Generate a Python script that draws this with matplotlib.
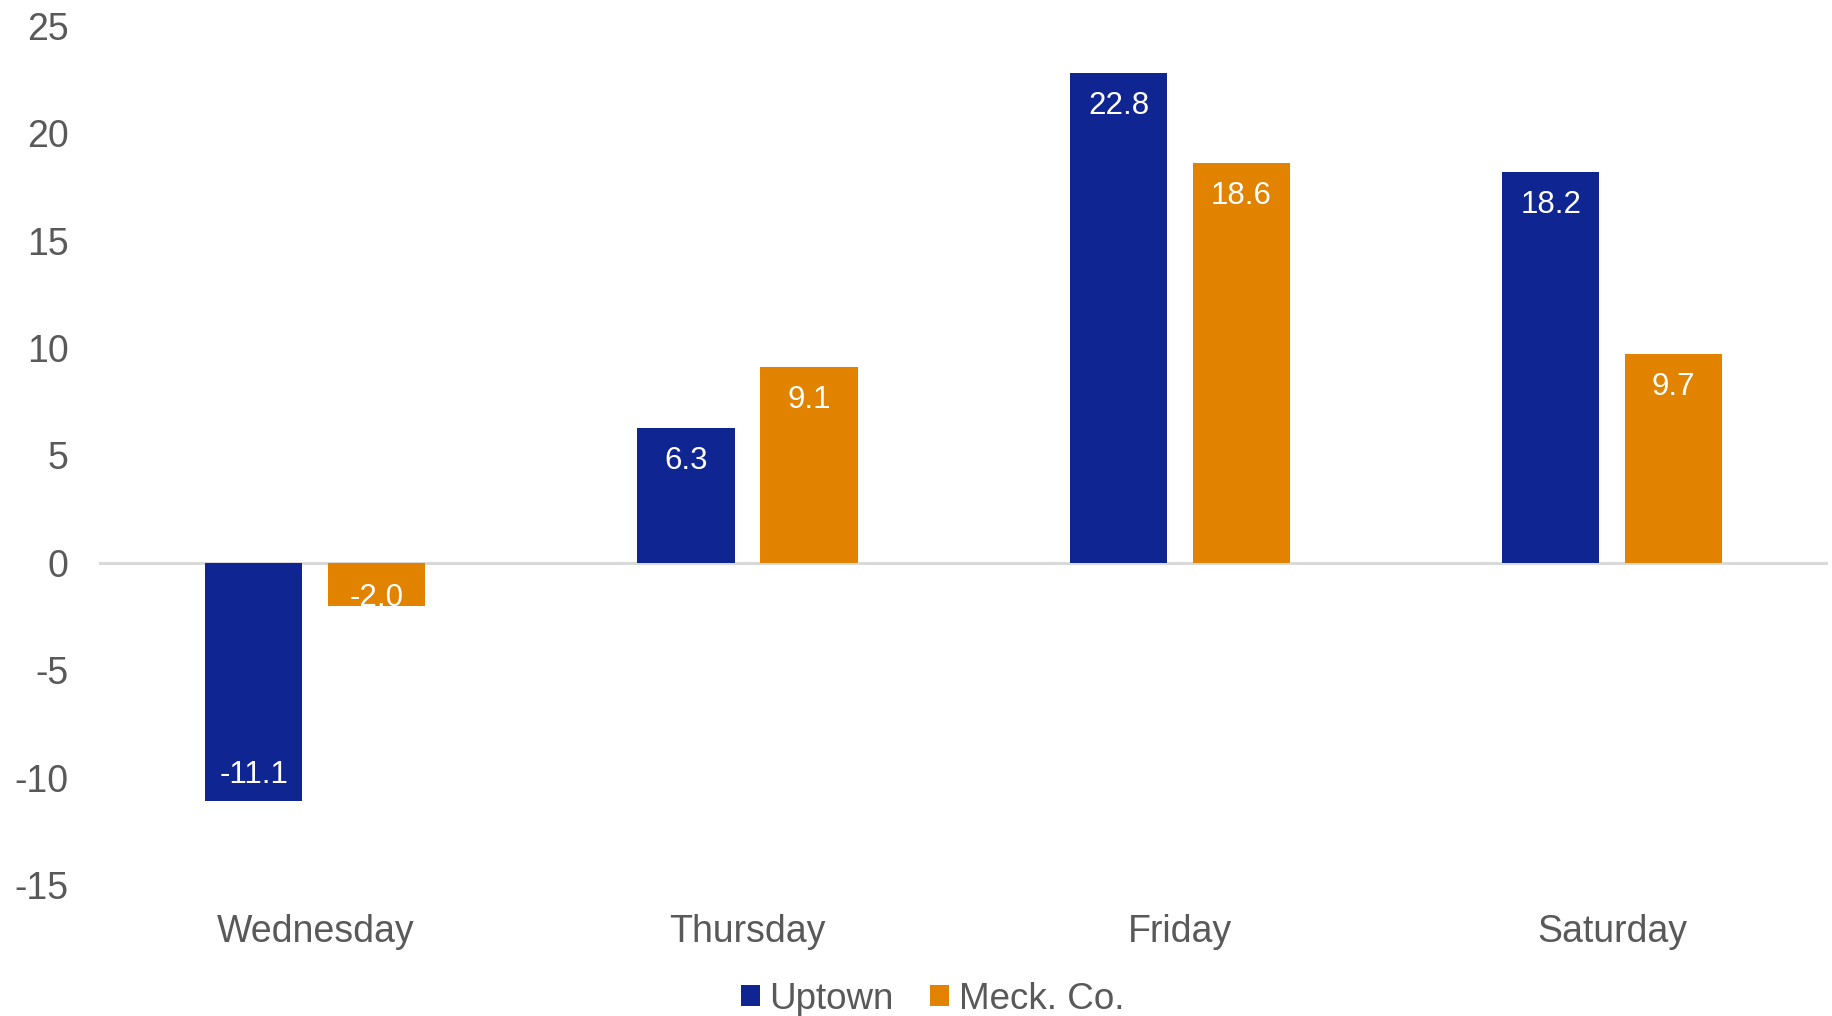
import numpy as np
import matplotlib.pyplot as plt

plt.rcParams['font.family'] = ['Liberation Sans', 'DejaVu Sans']
plt.rcParams['axes.unicode_minus'] = False

days = ["Wednesday", "Thursday", "Friday", "Saturday"]
uptown = [-11.1, 6.3, 22.8, 18.2]
meck = [-2.0, 9.1, 18.6, 9.7]
series_names = ["Uptown", "Meck. Co."]

blue = "#0F2592"
orange = "#E28300"
grey = "#595959"

fig = plt.figure(figsize=(18.33, 10.16), dpi=100)
ax = fig.add_axes([0.054, 0.129, 0.9435, 0.8455])

x = np.arange(len(days))
w = 0.225
off = 0.142

b1 = ax.bar(x - off, uptown, w, color=blue, label=series_names[0], zorder=3)
b2 = ax.bar(x + off, meck, w, color=orange, label=series_names[1], zorder=3)

ax.axhline(0, color="#D9D9D9", lw=2.2, zorder=2)

# value labels just inside the bar end (clipped to the bar like the original)
for bars, vals in ((b1, uptown), (b2, meck)):
    for rect, v in zip(bars, vals):
        if v > 0:
            dy = -33
        elif abs(v) > 3:
            dy = 26
        else:
            dy = 8
        t = ax.annotate(f"{v:.1f}", (rect.get_x() + rect.get_width() / 2, v),
                        xytext=(0, dy), textcoords="offset pixels",
                        ha="center", va="center", color="white",
                        fontsize=22.5, zorder=4)
        t.set_clip_path(rect)

ax.set_xlim(-0.5, 3.5)
ax.set_ylim(-15, 25)
ax.set_yticks(range(-15, 30, 5))
ax.set_xticks(x)
ax.set_xticklabels(days)
ax.tick_params(axis="both", length=0, labelsize=27, colors=grey)
ax.tick_params(axis="y", pad=22)
ax.tick_params(axis="x", pad=21)
for s in ax.spines.values():
    s.set_visible(False)

fig.legend(loc="center", bbox_to_anchor=(0.5087, 0.0165), ncol=2, frameon=False,
           fontsize=26.5, labelcolor=grey, handlelength=0.52, handleheight=0.52,
           handletextpad=0.25, columnspacing=1.0, borderpad=0, borderaxespad=0)

fig.savefig("out.png", dpi=100)
